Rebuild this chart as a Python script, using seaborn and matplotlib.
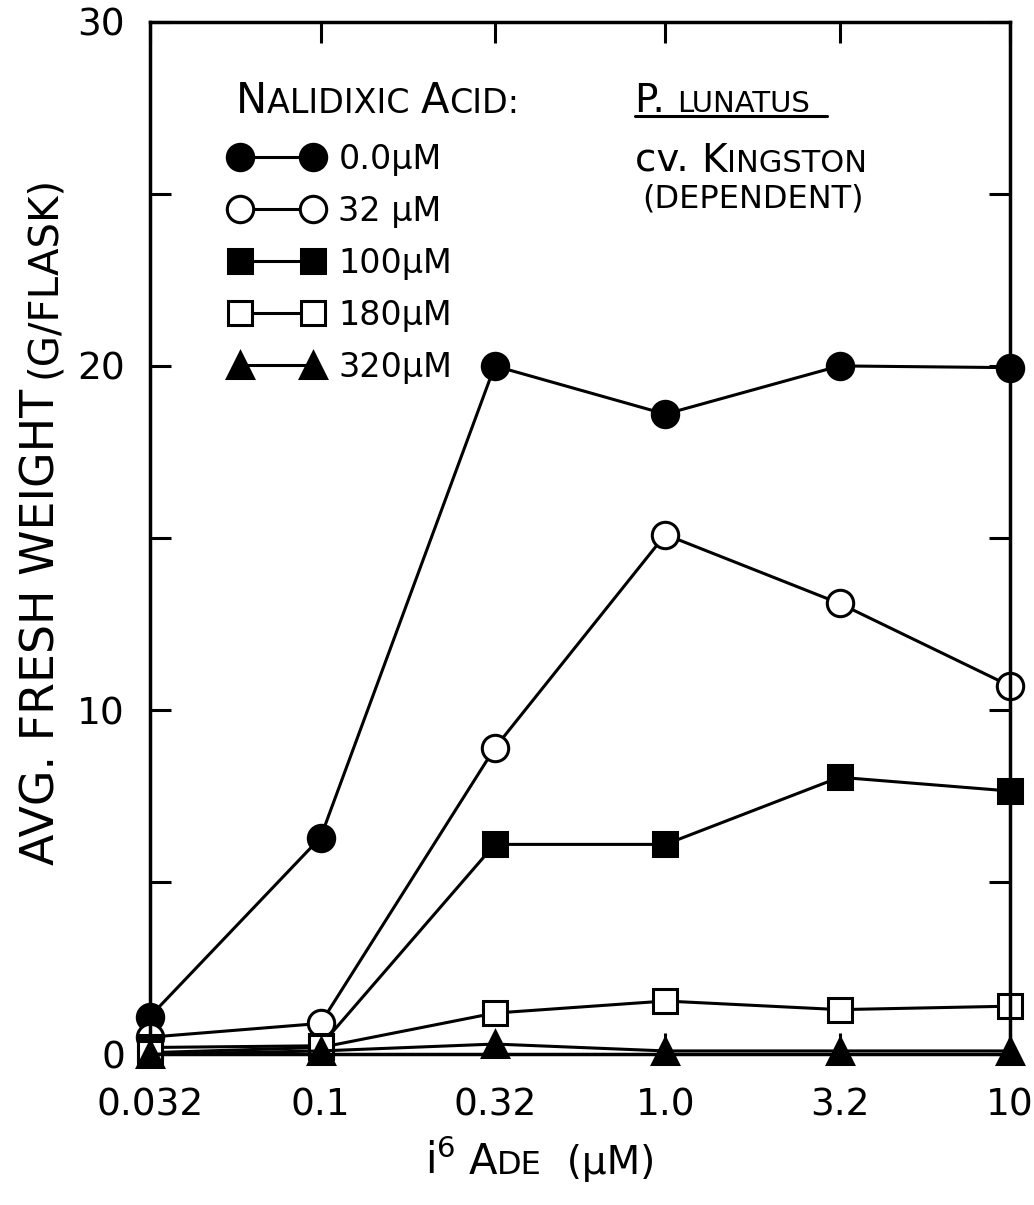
import numpy as np
import pandas as pd
import seaborn as sns
import matplotlib
matplotlib.use("Agg")
import matplotlib.pyplot as plt
from matplotlib.offsetbox import TextArea, HPacker, AnnotationBbox
from matplotlib.ticker import FixedLocator, FixedFormatter, NullLocator

# ---------------- data ----------------
i6ade = [0.032, 0.1, 0.32, 1.0, 3.2, 10]
x_ticklabels = ["0.032", "0.1", "0.32", "1.0", "3.2", "10"]
nal_0 = [1.1, 6.3, 20.0, 18.6, 20.0, 19.95]
nal_32 = [0.5, 0.9, 8.9, 15.1, 13.1, 10.7]
nal_100 = [0.2, 0.25, 6.1, 6.1, 8.05, 7.65]
nal_180 = [0.05, 0.2, 1.2, 1.55, 1.3, 1.4]
nal_320 = [0.0, 0.1, 0.3, 0.1, 0.1, 0.1]
series_labels = ["0.0μM", "32 μM", "100μM", "180μM", "320μM"]
y_ticks = [0, 5, 10, 15, 20, 25, 30]
y_ticklabels = ["0", "", "10", "", "20", "", "30"]

sns.set_style("white")
FONT = ["DejaVu Sans"]
plt.rcParams["font.family"] = FONT
plt.rcParams["text.color"] = "black"
plt.rcParams["xtick.color"] = "black"
plt.rcParams["ytick.color"] = "black"
plt.rcParams["axes.labelcolor"] = "black"

fig = plt.figure(figsize=(10.34, 12.05), dpi=100)
ax = fig.add_axes([0.145, 0.125, 0.832, 0.857])

series = [nal_0, nal_32, nal_100, nal_180, nal_320]
markers = ["o", "o", "s", "s", "^"]
faces = ["black", "white", "black", "white", "black"]
msizes = [19, 19, 17, 17, 19]

for vals, m, fc, ms, lab in zip(series, markers, faces, msizes, series_labels):
    sns.lineplot(x=i6ade, y=vals, ax=ax, color="black", linewidth=2.2,
                 marker=m, markersize=ms, markerfacecolor=fc,
                 markeredgecolor="black", markeredgewidth=2.2,
                 label=lab, clip_on=False, sort=False)

ax.set_xscale("log")
ax.set_xlim(0.032, 10)
ax.set_ylim(0, 30)

ax.xaxis.set_major_locator(FixedLocator(i6ade))
ax.xaxis.set_major_formatter(FixedFormatter(x_ticklabels))
ax.xaxis.set_minor_locator(NullLocator())
ax.yaxis.set_major_locator(FixedLocator(y_ticks))
ax.yaxis.set_major_formatter(FixedFormatter(y_ticklabels))

for s in ax.spines.values():
    s.set_linewidth(2.5)
    s.set_color("black")
    s.set_visible(True)

ax.tick_params(axis="both", which="major", direction="in", length=15,
               width=2.2, color="black", labelcolor="black", labelsize=27,
               top=True, right=True, bottom=True, left=True)
ax.tick_params(axis="x", pad=24)
ax.tick_params(axis="y", pad=18)
ax.set_xlabel("")
ax.set_ylabel("")

# legend
handles, labels = ax.get_legend_handles_labels()
leg = ax.legend(handles, labels, loc="upper left", bbox_to_anchor=(0.093, 0.883),
                frameon=False, fontsize=24, numpoints=2, handlelength=2.8,
                handletextpad=0.45, labelspacing=0.57, borderaxespad=0,
                borderpad=0)
for t in leg.get_texts():
    t.set_color("black")


def smallcaps(parts, xy, coords="axes fraction", align=(0, 0)):
    boxes = [TextArea(s, textprops=dict(fontsize=fs, color="black", family=FONT))
             for s, fs in parts]
    pack = HPacker(children=boxes, align="baseline", pad=0, sep=0)
    ab = AnnotationBbox(pack, xy, xycoords=coords, box_alignment=align,
                        frameon=False, pad=0, annotation_clip=False)
    ax.add_artist(ab)
    return ab


smallcaps([("N", 30), ("ALIDIXIC ", 24), ("A", 30), ("CID:", 24)], (0.100, 0.903))
smallcaps([("P. ", 28), ("LUNATUS", 21)], (0.564, 0.905))
ax.plot([0.564, 0.787], [0.909, 0.909], transform=ax.transAxes, color="black",
        linewidth=2.2, clip_on=False)
smallcaps([("cv. ", 28), ("K", 28), ("INGSTON", 22)], (0.564, 0.847))
smallcaps([("(DEPENDENT)", 23)], (0.572, 0.813))

# y label (mixed sizes)
fig.text(0.062, 1 - 865 / 1205, "AVG. FRESH WEIGHT", rotation=90, fontsize=33,
         ha="right", va="bottom")
fig.text(0.062, 1 - 378 / 1205, "(G/FLASK)", rotation=90, fontsize=29,
         ha="right", va="bottom")

# x label
smallcaps([("$\\mathregular{i^{6}}$", 30), (" ", 30), ("A", 30), ("DE", 23),
           ("  (μM)", 28)],
          (540 / 1034, 1 - 1183 / 1205), coords="figure fraction", align=(0.5, 0))

fig.savefig("out.png", dpi=100)
